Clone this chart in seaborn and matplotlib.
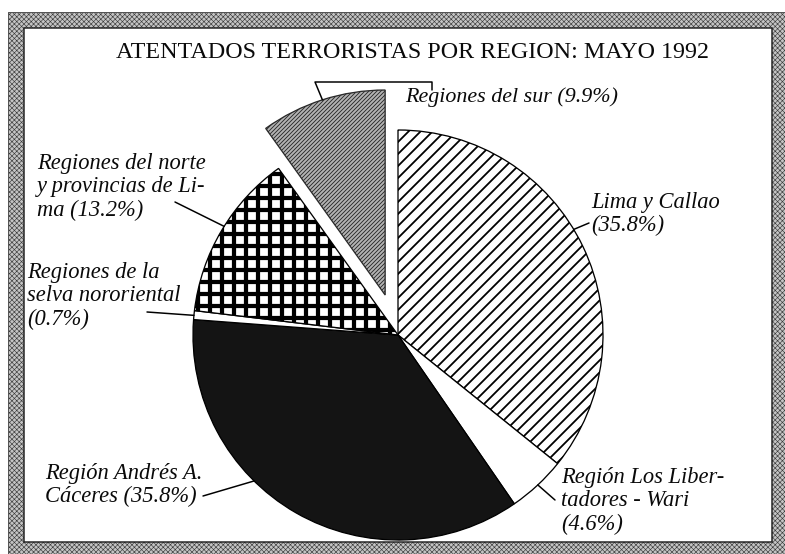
import numpy as np
import matplotlib.pyplot as plt
import seaborn as sns
from matplotlib.patches import Rectangle

# %% Datos: atentados terroristas por region, mayo 1992 (%)
regiones = ["Lima y Callao\n",
            "Región Los Liber-\ntadores - Wari\n",
            "Región Andrés A.\nCáceres ",
            "Regiones de la\nselva nororiental\n",
            "Regiones del norte\ny provincias de Li-\nma ",
            "Regiones del sur "]
porcentajes = [35.8, 4.6, 35.8, 0.7, 13.2, 9.9]
titulo = "ATENTADOS TERRORISTAS POR REGION: MAYO 1992"

# %% Estilo
sns.set_theme(style="white")
plt.rcParams['font.family'] = ['Liberation Serif', 'DejaVu Serif']
plt.rcParams['hatch.linewidth'] = 2.0

W, H = 785, 554                      # pixel canvas, drawn at 72 dpi
def py(y):                           # picture y (top down) -> axes y
    return H - y

fig = plt.figure(figsize=(W / 72, H / 72), dpi=72)
ax = fig.add_axes([0, 0, 1, 1])

# pie geometry (pixels)
cx, cy, R = 398, py(335), 205
explode = [0, 0, 0, 0, 0, 42]
caras = ['white', 'white', '#141414', 'white', 'white', '#b4b4b4']
tramas = ['//', None, None, None, '+', '//////']
grosor = [1.8, 1.0, 1.0, 1.0, 4.2, 0.9]

wedges, _ = ax.pie(porcentajes, startangle=90, counterclock=False,
                   center=(cx, cy), radius=R, explode=explode, colors=caras,
                   wedgeprops=dict(edgecolor='black', linewidth=1.3))
for w, t, g in zip(wedges, tramas, grosor):
    if t:
        w.set_hatch(t)
        if hasattr(w, 'set_hatch_linewidth'):
            w.set_hatch_linewidth(g)
wedges[5].set_edgecolor('#2a2a2a')

# %% Etiquetas con lineas guia
# (x texto, y centro texto, angulo del punto en el borde, x fin guia, y fin guia)
pos = [(591, 214, 31, 589, 223),
       (561, 501, -47, 555, 500),
       (45, 485, -134.6, 203, 496),
       (27, 296, 174.5, 147, 312),
       (37, 187, 148, 175, 202)]
for i, (tx, ty, ang, lx, ly) in enumerate(pos):
    ex = cx + R * np.cos(np.radians(ang))
    ey = cy + R * np.sin(np.radians(ang))
    ax.plot([ex, lx], [ey, py(ly)], color='black', lw=1.5, zorder=5)
    ax.text(tx, py(ty), f"{regiones[i]}({porcentajes[i]}%)", ha='left',
            va='center', fontsize=22.5, style='italic', linespacing=1.16,
            color='#0a0a0a', zorder=6)

# regiones del sur: corchete desde la porcion separada
w5 = wedges[5]
am = np.radians(0.5 * (w5.theta1 + w5.theta2))
sx = w5.center[0] + R * np.cos(am)
sy = w5.center[1] + R * np.sin(am)
ax.plot([sx, 315, 432, 432], [sy, py(82), py(82), py(90)],
        color='black', lw=1.5, zorder=5)
ax.text(405, py(97), f"{regiones[5]}({porcentajes[5]}%)", ha='left',
        va='center', fontsize=22, style='italic', color='#0a0a0a', zorder=6)

ax.text(413, py(52), titulo, ha='center', va='center', fontsize=24,
        color='#0a0a0a', zorder=6)

# %% Marco punteado
x0, y0, x1, y1 = 8, 12, 772, 542
banda = dict(facecolor='#c4c4c4', edgecolor='#3a3a3a', hatch='xxxxx',
             linewidth=0, zorder=10)
for r in [Rectangle((x0, py(y0 + 16)), W - x0, 16),
          Rectangle((x0, 0), W - x0, py(y1)),
          Rectangle((x0, 0), 16, py(y0)),
          Rectangle((x1, 0), W - x1, py(y0))]:
    r.set(**banda)
    if hasattr(r, 'set_hatch_linewidth'):
        r.set_hatch_linewidth(0.6)
    ax.add_patch(r)
ax.add_patch(Rectangle((x0, 0), W - x0 + 2, py(y0), fill=False,
                       edgecolor='#555555', lw=1.0, zorder=11))
ax.add_patch(Rectangle((x0 + 16, py(y1)), x1 - x0 - 16, y1 - y0 - 16,
                       fill=False, edgecolor='#222222', lw=1.5, zorder=11))

ax.set_xlim(0, W)
ax.set_ylim(0, H)
ax.set_axis_off()
fig.savefig("out.png", dpi=72)
